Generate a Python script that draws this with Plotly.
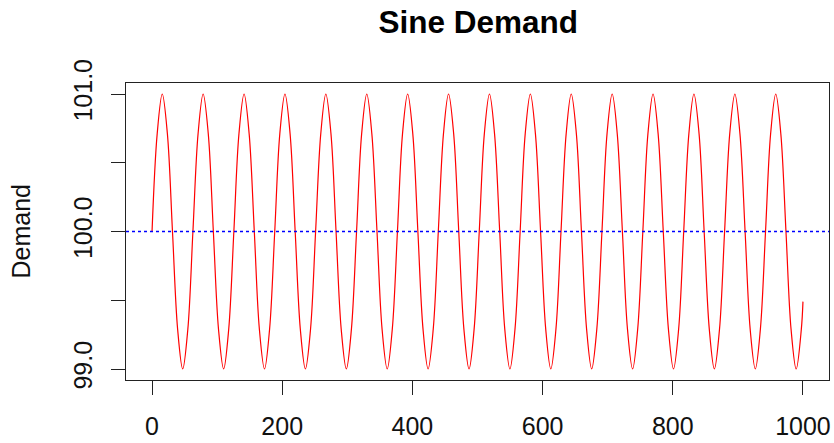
import plotly.graph_objects as go

# Time index (at eighth-period spacing)
time = [0, 7.9, 15.7, 23.6, 31.4, 39.3, 47.1, 55.0,
        62.8, 70.7, 78.5, 86.4, 94.2, 102.1, 110.0, 117.8,
        125.7, 133.5, 141.4, 149.2, 157.1, 164.9, 172.8, 180.6,
        188.5, 196.3, 204.2, 212.1, 219.9, 227.8, 235.6, 243.5,
        251.3, 259.2, 267.0, 274.9, 282.7, 290.6, 298.5, 306.3,
        314.2, 322.0, 329.9, 337.7, 345.6, 353.4, 361.3, 369.1,
        377.0, 384.8, 392.7, 400.6, 408.4, 416.3, 424.1, 432.0,
        439.8, 447.7, 455.5, 463.4, 471.2, 479.1, 487.0, 494.8,
        502.7, 510.5, 518.4, 526.2, 534.1, 541.9, 549.8, 557.6,
        565.5, 573.3, 581.2, 589.0, 596.9, 604.8, 612.6, 620.5,
        628.3, 636.2, 644.0, 651.9, 659.7, 667.6, 675.4, 683.3,
        691.2, 699.0, 706.9, 714.7, 722.6, 730.4, 738.3, 746.1,
        754.0, 761.8, 769.7, 777.5, 785.4, 793.3, 801.1, 809.0,
        816.8, 824.7, 832.5, 840.4, 848.2, 856.1, 863.9, 871.8,
        879.6, 887.5, 895.4, 903.2, 911.1, 918.9, 926.8, 934.6,
        942.5, 950.3, 958.2, 966.0, 973.9, 981.7, 989.6, 997.5,
        1000]

demand = [100.0, 100.71, 101.0, 100.71, 100.0, 99.29, 99.0, 99.29,
          100.0, 100.71, 101.0, 100.71, 100.0, 99.29, 99.0, 99.29,
          100.0, 100.71, 101.0, 100.71, 100.0, 99.29, 99.0, 99.29,
          100.0, 100.71, 101.0, 100.71, 100.0, 99.29, 99.0, 99.29,
          100.0, 100.71, 101.0, 100.71, 100.0, 99.29, 99.0, 99.29,
          100.0, 100.71, 101.0, 100.71, 100.0, 99.29, 99.0, 99.29,
          100.0, 100.71, 101.0, 100.71, 100.0, 99.29, 99.0, 99.29,
          100.0, 100.71, 101.0, 100.71, 100.0, 99.29, 99.0, 99.29,
          100.0, 100.71, 101.0, 100.71, 100.0, 99.29, 99.0, 99.29,
          100.0, 100.71, 101.0, 100.71, 100.0, 99.29, 99.0, 99.29,
          100.0, 100.71, 101.0, 100.71, 100.0, 99.29, 99.0, 99.29,
          100.0, 100.71, 101.0, 100.71, 100.0, 99.29, 99.0, 99.29,
          100.0, 100.71, 101.0, 100.71, 100.0, 99.29, 99.0, 99.29,
          100.0, 100.71, 101.0, 100.71, 100.0, 99.29, 99.0, 99.29,
          100.0, 100.71, 101.0, 100.71, 100.0, 99.29, 99.0, 99.29,
          100.0, 100.71, 101.0, 100.71, 100.0, 99.29, 99.0, 99.29,
          99.49]

mean_level = 100

x_ticks = [0, 200, 400, 600, 800, 1000]
x_labels = ["0", "200", "400", "600", "800", "1000"]
y_ticks = [99.0, 99.5, 100.0, 100.5, 101.0]
y_labels = ["99.0", "", "100.0", "", "101.0"]

FONT = "Liberation Sans, Arial, sans-serif"

fig = go.Figure()
fig.add_trace(go.Scatter(
    x=time, y=demand, mode="lines",
    line=dict(color="#FF0000", width=1.2, shape="spline", smoothing=1.0),
    showlegend=False, hoverinfo="skip"))

fig.add_shape(type="line", xref="paper", x0=0, x1=1, yref="y",
              y0=mean_level, y1=mean_level, layer="above",
              line=dict(color="#0000FF", width=1.5, dash="dot"))

fig.update_layout(
    width=834, height=443,
    margin=dict(l=126, r=3, t=83, b=59),
    paper_bgcolor="white", plot_bgcolor="white",
    font=dict(family=FONT, size=25, color="black"),
    title=dict(text="<b>Sine Demand</b>", x=0.5735, xanchor="center",
               y=1 - 22 / 443, yanchor="middle",
               font=dict(family=FONT, size=31.5, color="black")),
    xaxis=dict(range=[-40, 1040], tickvals=x_ticks, ticktext=x_labels,
               showgrid=False, zeroline=False, showline=True, mirror=True,
               linecolor="#222222", linewidth=1.3,
               ticks="outside", ticklen=14, tickwidth=1.3, tickcolor="#222222",
               ticklabelstandoff=10,
               tickfont=dict(family=FONT, size=25, color="#111111")),
    yaxis=dict(range=[98.92, 101.08], tickvals=y_ticks, ticktext=y_labels,
               showgrid=False, zeroline=False, showline=True, mirror=True,
               linecolor="#222222", linewidth=1.3,
               ticks="outside", ticklen=14, tickwidth=1.3, tickcolor="#222222",
               tickangle=-90, ticklabelstandoff=9,
               tickfont=dict(family=FONT, size=25, color="#111111")),
    annotations=[dict(text="Demand", textangle=-90, xref="paper", yref="paper",
                      x=0, y=0.5, xshift=-106, xanchor="center", yanchor="middle",
                      showarrow=False, font=dict(family=FONT, size=25, color="#111111"))],
)

fig.write_html("out.html")
